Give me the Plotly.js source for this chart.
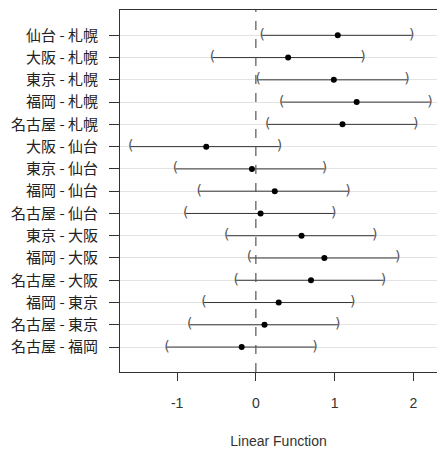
<!DOCTYPE html>
<html>
<head>
<meta charset="utf-8">
<script src="https://cdn.plot.ly/plotly-3.0.1.min.js"></script>
<style>html,body{margin:0;padding:0;background:#fff;}</style>
</head>
<body>
<div id="chart" style="width:437px;height:451px;"></div>
<script>
const comparisons = ["仙台 - 札幌","大阪 - 札幌","東京 - 札幌","福岡 - 札幌","名古屋 - 札幌","大阪 - 仙台","東京 - 仙台","福岡 - 仙台","名古屋 - 仙台","東京 - 大阪","福岡 - 大阪","名古屋 - 大阪","福岡 - 東京","名古屋 - 東京","名古屋 - 福岡"];
const estimate = [1.04, 0.41, 0.99, 1.28, 1.10, -0.63, -0.05, 0.24, 0.06, 0.58, 0.87, 0.70, 0.29, 0.11, -0.18];
const lower    = [0.08, -0.55, 0.03, 0.33, 0.15, -1.59, -1.02, -0.72, -0.89, -0.37, -0.08, -0.25, -0.66, -0.84, -1.13];
const upper    = [1.98, 1.36, 1.92, 2.21, 2.03, 0.30, 0.87, 1.17, 0.99, 1.51, 1.80, 1.62, 1.23, 1.04, 0.75];
const xTickVals = [-1, 0, 1, 2];
const xTickText = ["-1", "0", "1", "2"];

const traces = [
  {
    type: "scatter", mode: "markers",
    x: estimate, y: comparisons,
    marker: {color: "#000", size: 6},
    error_x: {
      type: "data", symmetric: false,
      array: upper.map((u, i) => u - estimate[i]),
      arrayminus: lower.map((l, i) => estimate[i] - l),
      color: "#333", thickness: 1, width: 0
    },
    hoverinfo: "x+y"
  },
  {
    type: "scatter", mode: "text",
    x: lower, y: comparisons, text: comparisons.map(() => "("),
    textfont: {family: "DejaVu Sans", size: 14, color: "#555"},
    textposition: "middle center", hoverinfo: "skip"
  },
  {
    type: "scatter", mode: "text",
    x: upper, y: comparisons, text: comparisons.map(() => ")"),
    textfont: {family: "DejaVu Sans", size: 14, color: "#555"},
    textposition: "middle center", hoverinfo: "skip"
  }
];

const layout = {
  width: 437, height: 451,
  margin: {l: 120, r: 0, t: 10, b: 79},
  paper_bgcolor: "#fff", plot_bgcolor: "#fff",
  showlegend: false,
  font: {family: "Liberation Sans, Arial, sans-serif", color: "#333"},
  xaxis: {
    range: [-1.725, 2.30],
    tickvals: xTickVals, ticktext: xTickText,
    ticks: "outside", ticklen: 8, tickcolor: "#333", tickwidth: 1,
    showgrid: false, zeroline: false,
    showline: true, linecolor: "#333", linewidth: 1, mirror: true,
    tickfont: {size: 14, color: "#333"},
    ticklabelstandoff: 10,
    title: {text: "Linear Function", font: {size: 14, color: "#333"}, standoff: 26}
  },
  yaxis: {
    type: "category",
    categoryorder: "array", categoryarray: comparisons,
    range: [15.12, -1.136],
    ticks: "outside", ticklen: 10, tickcolor: "#333", tickwidth: 1,
    showgrid: true, gridcolor: "#e3e3e3", gridwidth: 1,
    zeroline: false,
    showline: true, linecolor: "#333", linewidth: 1, mirror: false,
    tickfont: {family: "Noto Sans CJK JP", size: 15, color: "#222"},
    ticklabelstandoff: 8
  },
  shapes: [
    {type: "line", xref: "x", yref: "paper", x0: 0, x1: 0, y0: 0, y1: 1,
     line: {color: "#555", width: 1.2, dash: "dash"}}
  ]
};

Plotly.newPlot("chart", traces, layout, {displayModeBar: false, staticPlot: true});
</script>
</body>
</html>
